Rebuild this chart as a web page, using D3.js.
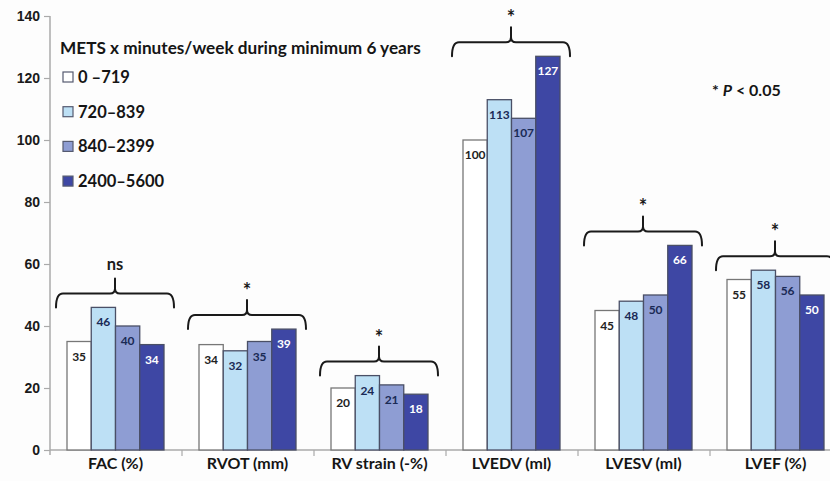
<!DOCTYPE html>
<html>
<head>
<meta charset="utf-8">
<script src="https://cdn.jsdelivr.net/npm/d3@7/dist/d3.min.js"></script>
<style>
  html, body { margin: 0; padding: 0; background: #fdfdfd; }
  svg { display: block; font-family: Lato, "Open Sans", sans-serif; }
</style>
</head>
<body>
<svg id="chart" width="830" height="481"></svg>
<script>
// Echocardiographic parameters by activity group
const categories = ["FAC (%)", "RVOT (mm)", "RV strain (-%)", "LVEDV (ml)", "LVESV (ml)", "LVEF (%)"];
const groups = ["0 \u2013719", "720\u2013839", "840\u20132399", "2400\u20135600"];
const values0_719 = [35, 34, 20, 100, 45, 55];
const values720_839 = [46, 32, 24, 113, 48, 58];
const values840_2399 = [40, 35, 21, 107, 50, 56];
const values2400_5600 = [34, 39, 18, 127, 66, 50];
const significance = ["ns", "*", "*", "*", "*", "*"];
const yTicks = [0, 20, 40, 60, 80, 100, 120, 140];
const legendTitle = "METS x minutes/week during minimum 6 years";

const series = [values0_719, values720_839, values840_2399, values2400_5600];
const fills = ["#ffffff", "#bde0f5", "#8e9dd3", "#3e47a4"];
const labelColors = ["#222222", "#1a2a55", "#1a2a55", "#ffffff"];

const svg = d3.select("#chart");

const y = d3.scaleLinear().domain([0, 140]).range([450, 16]);
const x = d3.scaleBand().domain(categories).range([50, 842]).padding(0);
const xs = d3.scaleBand().domain(d3.range(groups.length)).range([17, 114]).padding(0);

// y axis
const yAxis = svg.append("g").attr("transform", "translate(50,0)")
  .call(d3.axisLeft(y).tickValues(yTicks).tickSize(6).tickPadding(4));
yAxis.select(".domain").attr("d", `M0,${y(140)}V${y(0) + 5}`).attr("stroke", "#aaaaaa").attr("stroke-width", 1.5);
yAxis.selectAll(".tick line").attr("stroke", "#aaaaaa").attr("stroke-width", 1.2);
yAxis.selectAll(".tick text").attr("fill", "#1a1a1a").attr("font-size", 14).attr("font-weight", 700);

// x axis baseline with boundary ticks
const xAxisG = svg.append("g").attr("transform", `translate(0,${y(0)})`);
xAxisG.append("line").attr("x1", 50).attr("x2", 842).attr("stroke", "#aaaaaa").attr("stroke-width", 1.5);
xAxisG.selectAll("line.bt").data(categories.slice(1)).join("line")
  .attr("class", "bt")
  .attr("x1", d => x(d)).attr("x2", d => x(d))
  .attr("y1", 0).attr("y2", 6)
  .attr("stroke", "#aaaaaa").attr("stroke-width", 1.2);
xAxisG.selectAll("text.cat").data(categories).join("text")
  .attr("class", "cat")
  .attr("x", d => x(d) + xs(0) + (xs.range()[1] - xs.range()[0]) / 2)
  .attr("y", 19)
  .attr("text-anchor", "middle")
  .attr("font-size", 16).attr("font-weight", 700).attr("fill", "#151515")
  .text(d => d);

// bars
const barG = svg.append("g");
categories.forEach((cat, ci) => {
  series.forEach((vals, si) => {
    const v = vals[ci];
    const bx = x(cat) + xs(si);
    barG.append("rect")
      .attr("x", bx).attr("y", y(v))
      .attr("width", xs.bandwidth()).attr("height", y(0) - y(v))
      .attr("fill", fills[si])
      .attr("stroke", si === 0 ? "#777777" : "#4a4f66")
      .attr("stroke-width", 1.3);
    barG.append("text")
      .attr("x", bx + xs.bandwidth() / 2)
      .attr("y", y(v) + 19)
      .attr("text-anchor", "middle")
      .attr("font-size", 12).attr("font-weight", 700)
      .attr("fill", labelColors[si])
      .text(v);
  });
});

// significance braces
const braceG = svg.append("g");
categories.forEach((cat, ci) => {
  const maxV = d3.max(series, s => s[ci]);
  const by = y(maxV) - 14;
  const x0 = x(cat) + xs.range()[0] - 11;
  const x1 = x(cat) + xs.range()[1] + 10;
  const cx = (x0 + x1) / 2;
  const p = `M${x0},${by + 14} Q${x0},${by} ${x0 + 7},${by} L${cx - 5},${by} Q${cx},${by} ${cx},${by - 5} L${cx},${by - 15}` +
            ` M${cx},${by - 5} Q${cx},${by} ${cx + 5},${by} L${x1 - 7},${by} Q${x1},${by} ${x1},${by + 14}`;
  braceG.append("path").attr("d", p).attr("fill", "none")
    .attr("stroke", "#1a1a1a").attr("stroke-width", 2).attr("stroke-linecap", "round");
  const sig = significance[ci];
  braceG.append("text")
    .attr("x", cx)
    .attr("y", sig === "*" ? by - 17 : by - 23)
    .attr("text-anchor", "middle")
    .attr("font-size", sig === "*" ? 20 : 16.5).attr("font-weight", 700).attr("fill", "#1a1a1a")
    .text(sig);
});

// legend
const legend = svg.append("g");
legend.append("text").attr("x", 60).attr("y", 54)
  .attr("font-size", 17.2).attr("font-weight", 700).attr("fill", "#151515")
  .text(legendTitle);
groups.forEach((g, i) => {
  const ly = 77 + i * 34.7;
  legend.append("rect").attr("x", 63).attr("y", ly - 5).attr("width", 10).attr("height", 10)
    .attr("fill", fills[i]).attr("stroke", "#555a70").attr("stroke-width", 1.2);
  legend.append("text").attr("x", 78).attr("y", ly + 6)
    .attr("font-size", 16.5).attr("font-weight", 700).attr("fill", "#151515")
    .text(g);
});

// p-value note
const note = svg.append("text").attr("x", 712).attr("y", 96)
  .attr("font-size", 16).attr("font-weight", 700).attr("fill", "#151515");
note.append("tspan").text("* ");
note.append("tspan").attr("font-style", "italic").text("P");
note.append("tspan").text(" < 0.05");
</script>
</body>
</html>
